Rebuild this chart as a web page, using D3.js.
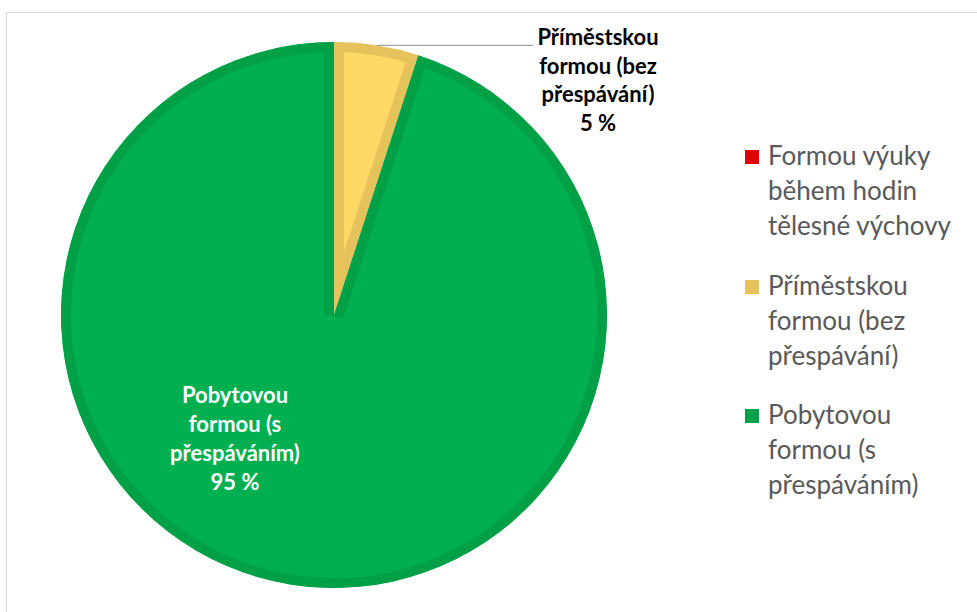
<!DOCTYPE html>
<html>
<head>
<meta charset="utf-8">
<script src="https://cdn.jsdelivr.net/npm/d3@7"></script>
<style>
  body { margin: 0; background: #fff; }
  svg { display: block; }
</style>
</head>
<body>
<script>
// data
var categories = ["Formou výuky během hodin tělesné výchovy", "Příměstskou formou (bez přespávání)", "Pobytovou formou (s přespáváním)"];
var values = [0, 5, 95];
var legendLines = [["Formou výuky", "během hodin", "tělesné výchovy"], ["Příměstskou", "formou (bez", "přespávání)"], ["Pobytovou", "formou (s", "přespáváním)"]];
var labelLines = [[], ["Příměstskou", "formou (bez", "přespávání)", "5 %"], ["Pobytovou", "formou (s", "přespáváním)", "95 %"]];

var fills = ["#FF0000", "#FFD966", "#00B050"];
var borders = ["#E00000", "#E6C25A", "#00A046"];

var width = 977, height = 612;
var cx = 334, cy = 315, radius = 273;
var font = "Lato, 'Open Sans', sans-serif";

var svg = d3.select("body").append("svg")
    .attr("width", width)
    .attr("height", height);

svg.append("rect")
    .attr("width", width).attr("height", height)
    .attr("fill", "#fff");

// chart area frame
svg.append("path")
    .attr("d", "M6.5," + height + "V12.5H" + width)
    .attr("fill", "none")
    .attr("stroke", "#D9D9D9")
    .attr("stroke-width", 1);

var pie = d3.pie().sort(null).value(d => d)(values);
var arc = d3.arc().innerRadius(0).outerRadius(radius);

var g = svg.append("g").attr("transform", "translate(" + cx + "," + cy + ")");
var defs = svg.append("defs");

pie.forEach(function(p, i) {
    if (p.endAngle - p.startAngle <= 0) return;
    defs.append("clipPath").attr("id", "clip" + i)
      .append("path").attr("d", arc(p));
    g.append("path")
      .attr("d", arc(p))
      .attr("fill", fills[i])
      .attr("stroke", borders[i])
      .attr("stroke-width", 20)
      .attr("stroke-linejoin", "miter")
      .attr("clip-path", "url(#clip" + i + ")");
});

// label for the small slice, outside with a leader line
var small = pie[1];
var midA = (small.startAngle + small.endAngle) / 2;
var lx0 = Math.sin(midA) * radius, ly0 = -Math.cos(midA) * radius;
var labX = 598 - cx, labY = 45 - cy;
g.append("line")
    .attr("x1", lx0).attr("y1", ly0)
    .attr("x2", 533 - cx).attr("y2", ly0)
    .attr("stroke", "#A6A6A6")
    .attr("stroke-width", 1.3);

var lab1 = g.append("text")
    .attr("text-anchor", "middle")
    .attr("font-family", font)
    .attr("font-weight", "bold")
    .attr("font-size", 22)
    .attr("fill", "#000");
labelLines[1].forEach(function(t, j) {
    lab1.append("tspan").attr("x", labX).attr("y", labY + j * 28.5).text(t);
});

// label for the big slice, inside
var lab2 = g.append("text")
    .attr("text-anchor", "middle")
    .attr("font-family", font)
    .attr("font-weight", "bold")
    .attr("font-size", 22)
    .attr("fill", "#fff");
labelLines[2].forEach(function(t, j) {
    lab2.append("tspan").attr("x", 235 - cx).attr("y", 403 - cy + j * 29).text(t);
});

// legend
var leg = svg.append("g").attr("transform", "translate(745,0)");
var groupTop = [165, 295, 424];
legendLines.forEach(function(lines, i) {
    leg.append("rect")
      .attr("x", 0).attr("y", groupTop[i] - 15)
      .attr("width", 14).attr("height", 14)
      .attr("fill", borders[i]);
    var t = leg.append("text")
      .attr("font-family", font)
      .attr("font-size", 26)
      .attr("fill", "#595959");
    lines.forEach(function(s, j) {
        t.append("tspan").attr("x", 23).attr("y", groupTop[i] + j * 35).text(s);
    });
});
</script>
</body>
</html>
